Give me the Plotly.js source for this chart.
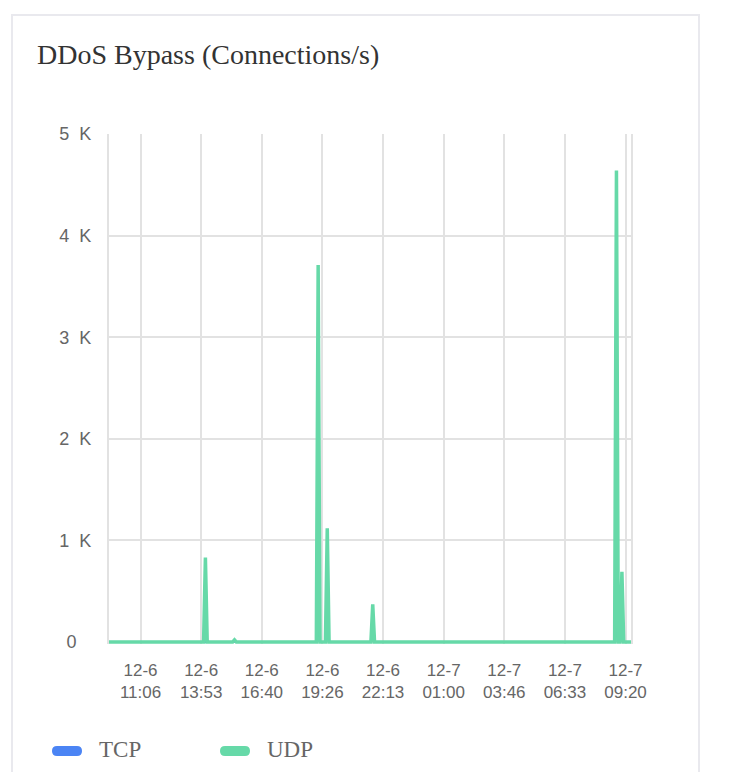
<!DOCTYPE html>
<html>
<head>
<meta charset="utf-8">
<script src="https://cdn.plot.ly/plotly-3.0.1.min.js"></script>
<style>
  html, body { margin: 0; padding: 0; background: #ffffff; }
  #card { position: absolute; left: 11px; top: 14px; width: 689px; height: 800px;
          border: 2px solid #e9e9ee; box-sizing: border-box; background: #fff; }
  #chart { position: absolute; left: 0; top: 0; width: 730px; height: 772px; }
</style>
</head>
<body>
<div id="card"></div>
<div id="chart"></div>
<script>
// ---- data ----
const chartTitle = "DDoS Bypass (Connections/s)";
const rangeStart = "2023-12-06 09:40:00";
const rangeEnd = "2023-12-07 09:35:00";

const udpTimes = [
  "2023-12-06 09:40:00",
  "2023-12-06 14:00:00", "2023-12-06 14:05:00", "2023-12-06 14:10:00",
  "2023-12-06 15:20:00", "2023-12-06 15:25:00", "2023-12-06 15:30:00",
  "2023-12-06 19:10:00", "2023-12-06 19:15:00", "2023-12-06 19:20:00",
  "2023-12-06 19:35:00", "2023-12-06 19:40:00", "2023-12-06 19:45:00",
  "2023-12-06 21:40:00", "2023-12-06 21:45:00", "2023-12-06 21:50:00",
  "2023-12-07 08:50:00", "2023-12-07 08:55:00", "2023-12-07 09:00:00",
  "2023-12-07 09:05:00", "2023-12-07 09:10:00", "2023-12-07 09:15:00",
  "2023-12-07 09:35:00"
];
const udpValues = [
  0,
  0, 830, 0,
  0, 20, 0,
  0, 3710, 0,
  0, 1120, 0,
  0, 370, 0,
  0, 4640, 0,
  0, 690, 0,
  0
];

const tcpTimes = [
  "2023-12-06 09:40:00",
  "2023-12-06 19:10:00", "2023-12-06 19:15:00", "2023-12-06 19:20:00",
  "2023-12-06 19:35:00", "2023-12-06 19:40:00", "2023-12-06 19:45:00",
  "2023-12-06 21:40:00", "2023-12-06 21:45:00", "2023-12-06 21:50:00",
  "2023-12-07 08:50:00", "2023-12-07 08:55:00", "2023-12-07 09:00:00",
  "2023-12-07 09:05:00", "2023-12-07 09:10:00", "2023-12-07 09:15:00",
  "2023-12-07 09:35:00"
];
const tcpValues = [
  0,
  0, 130, 0,
  0, 100, 0,
  0, 60, 0,
  0, 140, 0,
  0, 100, 0,
  0
];

const xTickVals = [
  "2023-12-06 11:06:40", "2023-12-06 13:53:20", "2023-12-06 16:40:00",
  "2023-12-06 19:26:40", "2023-12-06 22:13:20", "2023-12-07 01:00:00",
  "2023-12-07 03:46:40", "2023-12-07 06:33:20", "2023-12-07 09:20:00"
];
const xTickDates = ["12-6", "12-6", "12-6", "12-6", "12-6", "12-7", "12-7", "12-7", "12-7"];
const xTickTimes = ["11:06", "13:53", "16:40", "19:26", "22:13", "01:00", "03:46", "06:33", "09:20"];

const yTickVals = [0, 1000, 2000, 3000, 4000, 5000];
const yTickText = ["0", "1 K", "2 K", "3 K", "4 K", "5 K"];

const seriesNames = ["TCP", "UDP"];
const seriesColors = ["#4b84f4", "#66d9a8"];

// ---- layout helpers ----
const W = 730, H = 772;
const M = { l: 109, r: 99, t: 134, b: 128 };
const plotW = W - M.l - M.r, plotH = H - M.t - M.b;
const px = x => (x - M.l) / plotW;
const py = y => (H - M.b - y) / plotH;

function pill(x0, y0, w, h) {
  const r = h / 2, x1 = x0 + w, y1 = y0 + h, ym = y0 + r;
  const P = (x, y) => px(x).toFixed(5) + "," + py(y).toFixed(5);
  return "M" + P(x0 + r, y0) + " L" + P(x1 - r, y0) +
         " Q" + P(x1, y0) + " " + P(x1, ym) +
         " Q" + P(x1, y1) + " " + P(x1 - r, y1) +
         " L" + P(x0 + r, y1) +
         " Q" + P(x0, y1) + " " + P(x0, ym) +
         " Q" + P(x0, y0) + " " + P(x0 + r, y0) + " Z";
}

const gridColor = "#e2e2e2";
const tickFontX = { family: "Liberation Sans, Arial, sans-serif", size: 17, color: "#666666" };
const tickFontY = { family: "Liberation Sans, Arial, sans-serif", size: 18, color: "#666666" };

const traces = [
  {
    name: seriesNames[0], x: tcpTimes, y: tcpValues, type: "scatter", mode: "lines",
    line: { color: seriesColors[0], width: 2 },
    fill: "tozeroy", fillcolor: "rgba(75,132,244,0.25)",
    showlegend: false, hoverinfo: "x+y+name"
  },
  {
    name: seriesNames[1], x: udpTimes, y: udpValues, type: "scatter", mode: "lines",
    line: { color: seriesColors[1], width: 3.5 },
    fill: "tozeroy", fillcolor: "rgba(102,217,168,0.8)",
    showlegend: false, hoverinfo: "x+y+name"
  }
];

const yText = yTickText.map(t => t === "0" ? "0\u00a0\u00a0\u00a0" : t.replace(" ", "\u00a0\u00a0"));
const xText = xTickDates.map((d, i) => d + "<br>" + xTickTimes[i]);

const layout = {
  width: W, height: H,
  margin: M,
  paper_bgcolor: "rgba(0,0,0,0)",
  plot_bgcolor: "rgba(0,0,0,0)",
  showlegend: false,
  title: {
    text: chartTitle,
    x: 37 / W, xanchor: "left", xref: "container",
    y: 1 - 54 / H, yanchor: "middle", yref: "container",
    font: { family: "Liberation Serif, Times New Roman, serif", size: 28, color: "#333333" }
  },
  xaxis: {
    type: "date", range: [rangeStart, rangeEnd],
    tickmode: "array", tickvals: xTickVals, ticktext: xText,
    showgrid: true, gridcolor: gridColor, gridwidth: 2,
    showline: false, zeroline: false, ticks: "",
    tickfont: tickFontX, ticklabelstandoff: 14, fixedrange: true
  },
  yaxis: {
    range: [-20, 5000],
    tickmode: "array", tickvals: yTickVals, ticktext: yText,
    showgrid: true, gridcolor: gridColor, gridwidth: 2,
    showline: true, linecolor: gridColor, linewidth: 2, mirror: true,
    zeroline: false, ticks: "",
    tickfont: tickFontY, ticklabelstandoff: 12, fixedrange: true
  },
  shapes: [
    { type: "path", xref: "paper", yref: "paper", path: pill(52, 746, 30, 10),
      fillcolor: seriesColors[0], line: { width: 0 } },
    { type: "path", xref: "paper", yref: "paper", path: pill(220, 746, 30, 10),
      fillcolor: seriesColors[1], line: { width: 0 } }
  ],
  annotations: [
    { text: seriesNames[0], xref: "paper", yref: "paper", x: px(97), y: py(749),
      xanchor: "left", yanchor: "middle", showarrow: false,
      font: { family: "Liberation Serif, Times New Roman, serif", size: 23, color: "#666666" } },
    { text: seriesNames[1], xref: "paper", yref: "paper", x: px(265), y: py(749),
      xanchor: "left", yanchor: "middle", showarrow: false,
      font: { family: "Liberation Serif, Times New Roman, serif", size: 23, color: "#666666" } }
  ]
};

Plotly.newPlot("chart", traces, layout, { displayModeBar: false, staticPlot: true });
</script>
</body>
</html>
